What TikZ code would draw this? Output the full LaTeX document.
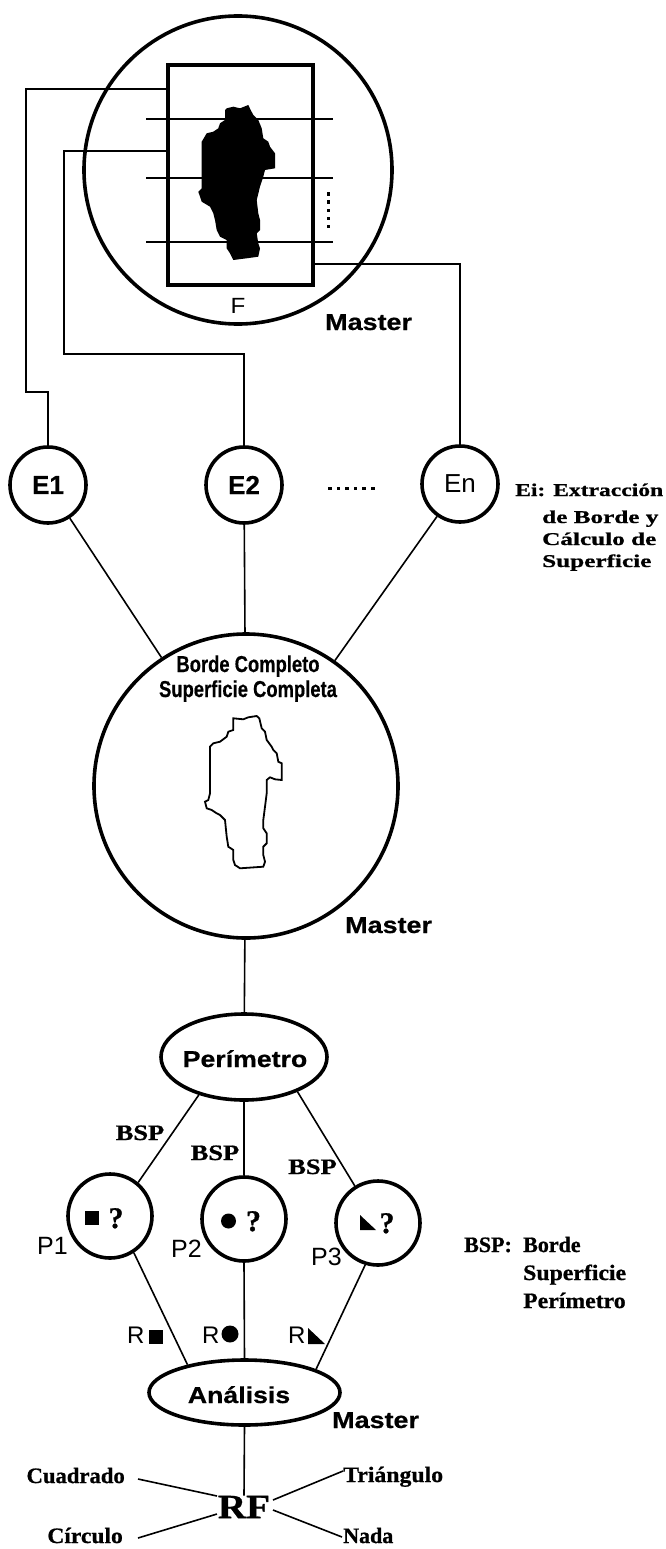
\documentclass[tikz,border=0pt]{standalone}
\usepackage{fontspec}
\usepackage{graphicx}
\usetikzlibrary{shapes.geometric}
\newfontfamily\lsans{Liberation Sans}[BoldFeatures={FakeBold=0.6}]
\newfontfamily\lserif{Liberation Serif}[BoldFeatures={FakeBold=0.8}]
\newcommand{\xstr}[2]{\scalebox{#1}[1]{#2}}
\newcommand{\sz}[1]{\fontsize{#1}{#1}\selectfont}
\begin{document}
\begin{tikzpicture}[x=1pt, y=-1pt,
  heavy/.style={line width=3.6pt},
  wire/.style={line width=1.6pt},
  ring/.style={circle, draw, heavy, inner sep=0pt},
  oval/.style={ellipse, draw, heavy, inner sep=0pt},
  txt/.style={inner sep=0pt, anchor=base},
  mastertxt/.style={inner sep=0pt, anchor=base west, font=\lsans\bfseries\sz{23}},
  serifb/.style={inner sep=0pt, font=\lserif\bfseries\sz{22}},
  legend/.style={inner sep=0pt, anchor=base west, font=\lserif\bfseries\sz{18}},
  plabel/.style={inner sep=0pt, anchor=base east, font=\lsans\sz{25}},
  rlabel/.style={inner sep=0pt, anchor=base west, font=\lsans\sz{24}},
  qmark/.style={inner sep=0pt, anchor=base, font=\lserif\bfseries\sz{30}}]
\useasboundingbox (0,0) rectangle (666,1549);

% ---------- image acquisition: frame inside the master circle ----------
\node[ring, minimum size=308] (TC) at (238,170) {};
\node[draw, heavy, minimum width=145, minimum height=220, inner sep=0pt] (F) at (240.5,175) {};
\fill (226.7,108.3) -- (233.3,106.7) -- (240,108.3) -- (248.3,105) -- (250.7,110) -- (253.3,115)
  -- (258.3,120) -- (261.7,128.3) -- (263.3,138.3) -- (268.3,141.7) -- (270,146.7) -- (275,153.3)
  -- (275,168.3) -- (265,170) -- (263.3,176.7) -- (260,186.7) -- (256.7,200) -- (258.3,213.3)
  -- (260,220) -- (260,230) -- (256.7,233.3) -- (258.3,243.3) -- (260,248.3) -- (258.3,256.7)
  -- (246.7,258.3) -- (233.3,260) -- (230,253.3) -- (226.7,248.3) -- (226.7,240) -- (220,236.7)
  -- (216.7,230) -- (215,220) -- (213.3,213.3) -- (210,206.7) -- (201.7,201.7) -- (198.3,191.7)
  -- (201.7,188.3) -- (201.7,141.7) -- (206.7,133.3) -- (213.3,131.7) -- (218.3,128.3) -- (220,123.3)
  -- (225,120) -- (225,110) -- cycle;
\draw[wire] (146,119) -- (333,119);
\draw[wire] (146,178) -- (333,178);
\draw[wire] (146,242) -- (333,242);
\foreach \k in {0,...,4} \fill (326.5,192.5+8*\k) rectangle ++(3.5,3.5);
\node[txt, font=\lsans\sz{22}] (Flab) at (238,313) {\xstr{1.1}{F}};
\node[mastertxt] (M1) at (325,330) {\xstr{1.17}{Master}};

% ---------- extraction processes ----------
\node[ring, minimum size=76] (E1) at (48,485) {\lsans\bfseries\sz{26}E1};
\node[ring, minimum size=76] (E2) at (244,485) {\lsans\bfseries\sz{26}E2};
\node[ring, minimum size=76] (En) at (460,484) {\lsans\sz{26}En};
\foreach \k in {0,...,5} \fill (328+8.6*\k,486.5) rectangle ++(3.5,3.5);

\coordinate (ya) at (0,89);
\coordinate (yb) at (0,151);
\coordinate (yc) at (0,264);
\coordinate (ka) at (26,89);
\coordinate (kb) at (26,392);
\coordinate (kc) at (64,151);
\coordinate (kd) at (64,354);
\draw[wire] (F.west |- ya) -- (ka) -- (kb) -| (E1.north);
\draw[wire] (F.west |- yb) -- (kc) -- (kd) -| (E2.north);
\draw[wire] (F.east |- yc) -| (En.north);

\node[legend] (ei1) at (515,496) {\xstr{1.31}{Ei: Extracción}};
\node[legend] (ei2) at (542,523) {\xstr{1.4}{de Borde y}};
\node[legend] (ei3) at (542,545) {\xstr{1.4}{Cálculo de}};
\node[legend] (ei4) at (542,567) {\xstr{1.4}{Superficie}};

% ---------- merged result ----------
\node[ring, minimum size=304] (BC) at (246,786) {};
\node[txt, font=\lsans\bfseries\sz{23}] (bc1) at (248,672) {\xstr{0.8}{Borde Completo}};
\node[txt, font=\lsans\bfseries\sz{23}] (bc2) at (248,697) {\xstr{0.8}{Superficie Completa}};
\draw[line width=1.8pt] (233.3,718.3) -- (243.3,719.3) -- (248.3,717.3) -- (256.7,716) -- (259.3,718.3)
  -- (261.7,728.3) -- (265,731.7) -- (266.7,740) -- (271.7,746.7) -- (273.3,750) -- (276.7,753.3)
  -- (278.3,761.7) -- (281.7,763.3) -- (281.7,780) -- (275,779.3) -- (270,777.3) -- (266.7,780)
  -- (266.7,793.3) -- (265,806.7) -- (263.3,820) -- (263.3,828.3) -- (266.7,833.3) -- (266.7,843.3)
  -- (263.3,846.7) -- (263.3,855) -- (265,861.7) -- (263.3,866.7) -- (240,868.3) -- (235,865)
  -- (233.3,860) -- (233.3,850) -- (228.3,846.7) -- (226.7,836.7) -- (225,820) -- (220,815)
  -- (216.7,813.3) -- (211.7,810) -- (206.7,808.3) -- (205,801.7) -- (208.3,800) -- (210,793.3)
  -- (210,746.7) -- (213.3,743.3) -- (220,741.7) -- (226.7,736.7) -- (228.3,731.7) -- (233.3,730) -- cycle;
\node[mastertxt] (M2) at (345,933) {\xstr{1.17}{Master}};

\draw[wire] (E1) -- (BC);
\draw[wire] (E2) -- (BC);
\draw[wire] (En) -- (BC);

% ---------- perimeter and shape tests ----------
\node[oval, minimum width=166, minimum height=86] (Per) at (244,1057) {};
\node[txt, font=\lsans\bfseries\sz{23}] (pertxt) at (245,1067) {\xstr{1.16}{Perímetro}};
\draw[wire] (BC) -- (Per);

\node[ring, minimum size=84] (P1) at (110,1216) {};
\node[ring, minimum size=84] (P2) at (244,1219) {};
\node[ring, minimum size=84] (P3) at (378,1223) {};
\fill (85,1211) rectangle (99,1225);
\node[qmark] (q1) at (116,1228) {?};
\fill (228.5,1221) circle (7.5);
\node[qmark] (q2) at (253.5,1231) {?};
\fill (360,1215) -- (360,1230) -- (376,1230) -- cycle;
\node[qmark] (q3) at (387,1233) {?};
\node[plabel] (p1l) at (68,1254) {P1};
\node[plabel] (p2l) at (202,1257) {P2};
\node[plabel] (p3l) at (342,1265) {P3};

\draw[wire] (Per.220) -- (P1.50);
\draw[wire] (Per.south) -- (P2.north);
\draw[wire] (Per.327) -- (P3.122);
\node[serifb, anchor=base] (bsp1) at (140,1140) {\xstr{1.2}{BSP}};
\node[serifb, anchor=base] (bsp2) at (215,1160) {\xstr{1.2}{BSP}};
\node[serifb, anchor=base] (bsp3) at (312.5,1174) {\xstr{1.2}{BSP}};

\node[serifb, anchor=base west] (bl0) at (464,1252) {BSP:};
\node[serifb, anchor=base west] (bl1) at (523,1252) {Borde};
\node[serifb, anchor=base west] (bl2) at (523,1280) {\xstr{1.08}{Superficie}};
\node[serifb, anchor=base west] (bl3) at (523,1308) {\xstr{1.08}{Perímetro}};

% ---------- analysis ----------
\node[oval, minimum width=191, minimum height=65] (An) at (244.5,1392.5) {};
\node[txt, font=\lsans\bfseries\sz{23}] (antxt) at (239,1403) {\xstr{1.16}{Análisis}};
\node[mastertxt] (M3) at (332,1428) {\xstr{1.17}{Master}};
\draw[wire] (P1.303) -- (An.154);
\draw[wire] (P2.south) -- (An.north);
\draw[wire] (P3.253) -- (An.18);

\node[rlabel] (r1) at (127,1343) {R};
\fill (149,1330) rectangle (163,1344);
\node[rlabel] (r2) at (202,1343) {R};
\fill (230,1334) circle (8.5);
\node[rlabel] (r3) at (288,1343) {R};
\fill (308,1328) -- (308,1344) -- (325,1344) -- cycle;

% ---------- final result ----------
\node[inner sep=0pt, font=\lserif\bfseries\sz{34}] (RF) at (244,1507) {\xstr{1.15}{RF}};
\draw[wire] (An.south) -- (RF.north);

\node[serifb, anchor=base east] (cuad) at (125,1483) {\xstr{1.03}{Cuadrado}};
\node[serifb, anchor=base east] (circ) at (123,1543) {\xstr{1.07}{Círculo}};
\node[serifb, anchor=base west] (tria) at (343,1482) {\xstr{1.08}{Triángulo}};
\node[serifb, anchor=base west] (nada) at (343,1543) {Nada};

\coordinate (rfCu) at (217,1496);
\coordinate (rfCi) at (217,1514);
\coordinate (rfTr) at (273,1500);
\coordinate (rfNa) at (273,1510);
\coordinate (cuEnd) at (138,1479);
\coordinate (ciEnd) at (138,1538);
\coordinate (trEnd) at (343,1471);
\coordinate (naEnd) at (342,1537);
\draw[wire] (rfCu) -- (cuEnd);
\draw[wire] (rfCi) -- (ciEnd);
\draw[wire] (rfTr) -- (trEnd);
\draw[wire] (rfNa) -- (naEnd);
\end{tikzpicture}
\end{document}
